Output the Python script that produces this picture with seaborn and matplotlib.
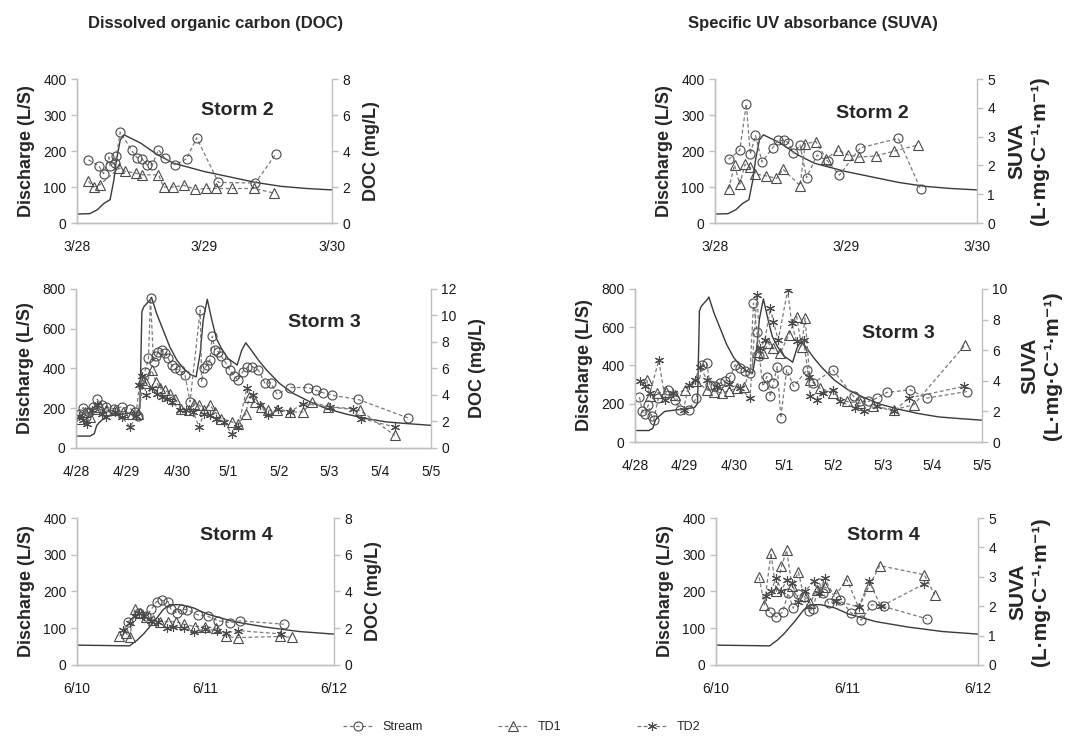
import numpy as np
import pandas as pd
import seaborn as sns
import matplotlib.pyplot as plt

sns.set_style("white")
plt.rcParams['font.family'] = ['Liberation Sans', 'DejaVu Sans']

# ---------------- Storm 2 (3/28 - 3/30), x = days since 3/28 ----------------
s2_ticks = ["3/28", "3/29", "3/30"]
s2_q_day = [0, 0.1, 0.16, 0.21, 0.26, 0.29, 0.31, 0.34, 0.37, 0.5, 0.63, 0.76, 1.0, 1.2, 1.4, 1.6, 1.8, 2.0]
s2_q = [25, 26, 37, 54, 65, 120, 175, 231, 245, 222, 190, 166, 143, 128, 113, 102, 96, 92]

s2_doc_stream_day = [0.09, 0.17, 0.21, 0.25, 0.26, 0.30, 0.31, 0.34, 0.43, 0.47, 0.51, 0.55, 0.59, 0.64, 0.69, 0.77, 0.86, 0.94, 1.11, 1.40, 1.56]
s2_doc_stream = [3.51, 3.18, 2.74, 3.66, 3.18, 3.36, 3.73, 5.05, 4.03, 3.64, 3.57, 3.22, 3.22, 4.07, 3.59, 3.23, 3.57, 4.73, 2.26, 2.22, 3.83]
s2_doc_td1_day = [0.09, 0.13, 0.18, 0.33, 0.38, 0.46, 0.51, 0.64, 0.68, 0.75, 0.84, 0.93, 1.01, 1.09, 1.22, 1.39, 1.55]
s2_doc_td1 = [2.31, 2.0, 2.13, 3.05, 2.87, 2.77, 2.68, 2.68, 2.0, 2.0, 2.09, 1.87, 1.92, 1.92, 1.92, 1.92, 1.66]

s2_suva_stream_day = [0.105, 0.19, 0.24, 0.27, 0.31, 0.36, 0.44, 0.48, 0.53, 0.56, 0.60, 0.65, 0.70, 0.78, 0.86, 0.95, 1.11, 1.40, 1.57]
s2_suva_stream = [2.21, 2.53, 4.14, 2.39, 3.04, 2.12, 2.61, 2.87, 2.87, 2.79, 2.42, 2.71, 1.58, 2.36, 2.16, 1.66, 2.61, 2.94, 1.18]
s2_suva_td1_day = [0.105, 0.15, 0.19, 0.23, 0.27, 0.31, 0.39, 0.47, 0.52, 0.65, 0.69, 0.77, 0.85, 0.94, 1.02, 1.10, 1.23, 1.37, 1.55]
s2_suva_td1 = [1.18, 2.01, 1.35, 2.04, 1.93, 1.70, 1.64, 1.55, 1.87, 1.30, 2.75, 2.83, 2.24, 2.53, 2.36, 2.29, 2.33, 2.50, 2.71]

# ---------------- Storm 3 (4/28 - 5/5) ----------------
s3_ticks = ["4/28", "4/29", "4/30", "5/1", "5/2", "5/3", "5/4", "5/5"]
s3_q_day = [0, 0.28, 0.36, 0.41, 0.47, 0.6, 0.9, 1.2, 1.26, 1.30, 1.34, 1.46, 1.49, 1.59, 1.72, 1.85, 1.99,
            2.12, 2.25, 2.37, 2.45, 2.51, 2.59, 2.68, 2.77, 2.87, 3.0, 3.14, 3.18, 3.27, 3.35, 3.46, 3.60,
            3.76, 4.02, 4.29, 4.62, 4.94, 5.34, 5.73, 6.13, 6.52, 7.0]
s3_q = [60, 60, 72, 114, 131, 160, 170, 180, 200, 686, 711, 745, 758, 677, 593, 509, 442,
        400, 371, 358, 476, 644, 748, 644, 551, 501, 450, 425, 417, 492, 529, 492, 442,
        392, 324, 274, 232, 198, 170, 148, 131, 123, 114]

s3_doc_stream_day = [0.07, 0.14, 0.20, 0.26, 0.34, 0.42, 0.51, 0.60, 0.74, 0.90, 1.07, 1.16, 1.23, 1.36, 1.43, 1.47,
                     1.53, 1.58, 1.62, 1.69, 1.76, 1.82, 1.89, 1.95, 2.05, 2.15, 2.25, 2.45, 2.48, 2.52, 2.59, 2.64,
                     2.69, 2.74, 2.81, 2.87, 2.96, 3.04, 3.12, 3.20, 3.29, 3.38, 3.48, 3.60, 3.73, 3.84, 3.97, 4.22,
                     4.58, 4.73, 4.88, 5.06, 5.57, 6.55]
s3_doc_stream = [2.55, 3.05, 2.34, 2.72, 3.1, 3.68, 3.23, 3.1, 2.97, 3.1, 2.97, 2.72, 2.42, 5.75, 6.76, 11.29,
                 6.5, 6.93, 7.26, 7.39, 7.18, 6.76, 6.25, 6.0, 5.87, 5.5, 3.48, 10.41, 4.99, 6.0, 6.25, 6.63,
                 8.44, 7.39, 7.26, 6.93, 6.38, 5.87, 5.42, 5.12, 5.75, 6.08, 6.13, 5.87, 4.87, 4.92, 4.06, 4.56,
                 4.56, 4.36, 4.16, 3.98, 3.66, 2.27]
s3_doc_td1_day = [0.08, 0.18, 0.28, 0.37, 0.47, 0.60, 0.77, 0.93, 1.10, 1.23, 1.30, 1.39, 1.49, 1.58, 1.66, 1.76,
                  1.85, 1.95, 2.08, 2.22, 2.33, 2.43, 2.52, 2.64, 2.74, 2.87, 3.07, 3.20, 3.35, 3.42, 3.53, 3.66,
                  3.79, 3.96, 4.22, 4.48, 4.65, 4.98, 5.60, 6.29]
s3_doc_td1 = [2.22, 2.72, 2.34, 2.97, 3.1, 2.85, 2.85, 2.72, 2.6, 2.6, 5.12, 4.87, 5.87, 4.99, 4.49, 4.36,
              4.11, 3.73, 2.97, 2.85, 3.35, 3.23, 2.85, 3.28, 2.72, 2.22, 1.97, 1.79, 2.6, 3.86, 3.48, 3.1,
              2.85, 2.85, 2.72, 2.72, 3.48, 3.1, 2.85, 0.96]
s3_doc_td2_day = [0.05, 0.14, 0.22, 0.31, 0.41, 0.51, 0.60, 0.77, 0.90, 1.07, 1.18, 1.25, 1.31, 1.39, 1.49, 1.59,
                  1.69, 1.79, 1.89, 2.05, 2.18, 2.31, 2.43, 2.52, 2.64, 2.77, 2.92, 3.07, 3.20, 3.37, 3.50, 3.63,
                  3.79, 3.99, 4.22, 4.48, 5.01, 5.47, 5.63, 6.29]
s3_doc_td2 = [2.39, 2.09, 1.84, 2.85, 3.23, 2.6, 2.34, 2.72, 2.34, 1.59, 2.39, 4.74, 5.42, 3.98, 4.49, 4.11,
              3.86, 3.73, 3.48, 2.9, 2.85, 2.72, 1.59, 2.6, 2.47, 2.22, 1.97, 1.08, 1.59, 4.49, 3.98, 3.23,
              2.47, 2.97, 2.72, 3.35, 3.1, 2.97, 2.22, 1.59]

s3_suva_stream_day = [0.09, 0.15, 0.20, 0.27, 0.34, 0.38, 0.47, 0.67, 0.81, 0.91, 1.08, 1.24, 1.35, 1.45, 1.51, 1.62,
                      1.72, 1.82, 1.92, 2.02, 2.12, 2.22, 2.32, 2.39, 2.46, 2.51, 2.58, 2.66, 2.73, 2.79, 2.87, 2.94,
                      3.06, 3.20, 3.47, 3.60, 3.99, 4.41, 4.54, 4.71, 4.88, 5.08, 5.55, 5.89, 6.70]
s3_suva_stream = [2.93, 2.0, 1.83, 2.43, 1.67, 1.46, 2.87, 3.37, 2.76, 2.1, 2.1, 2.87, 5.04, 5.15, 3.74, 3.63,
                  3.85, 3.96, 4.28, 5.04, 4.83, 4.61, 4.5, 9.07, 7.22, 5.59, 3.63, 4.28, 2.98, 3.85, 4.93, 1.57,
                  4.72, 3.63, 4.72, 3.85, 4.72, 2.98, 2.65, 2.65, 2.87, 3.24, 3.41, 2.87, 3.30]
s3_suva_td1_day = [0.24, 0.30, 0.44, 0.62, 0.80, 1.00, 1.24, 1.45, 1.60, 1.75, 1.90, 2.05, 2.20, 2.46, 2.59, 2.69,
                   2.79, 2.93, 3.10, 3.26, 3.36, 3.43, 3.53, 3.73, 4.0, 4.27, 4.54, 4.81, 5.22, 5.62, 6.66]
s3_suva_td1 = [4.07, 2.98, 3.2, 3.3, 3.1, 3.4, 3.96, 3.41, 3.3, 3.2, 3.35, 3.5, 3.6, 5.91, 5.8, 6.46,
               6.13, 5.8, 7.0, 8.2, 6.24, 8.09, 4.07, 3.52, 3.2, 2.65, 2.54, 2.33, 2.11, 2.43, 6.35]
s3_suva_td2_day = [0.10, 0.20, 0.30, 0.48, 0.61, 0.77, 0.98, 1.08, 1.21, 1.31, 1.45, 1.65, 1.90, 2.12, 2.32, 2.46,
                   2.52, 2.62, 2.73, 2.79, 2.89, 3.08, 3.16, 3.26, 3.40, 3.50, 3.53, 3.67, 3.80, 4.0, 4.14, 4.44,
                   4.61, 4.88, 5.22, 5.52, 6.63]
s3_suva_td2 = [4.0, 3.63, 3.2, 5.33, 2.76, 3.2, 2.11, 3.74, 4.07, 4.93, 4.07, 3.6, 3.8, 3.52, 2.87, 9.61,
               6.13, 6.67, 8.74, 7.87, 6.67, 9.93, 7.76, 6.57, 6.67, 4.28, 2.98, 2.76, 3.2, 3.41, 2.65, 2.22,
               2.0, 2.33, 2.0, 2.87, 3.63]

# ---------------- Storm 4 (6/10 - 6/12) ----------------
s4_ticks = ["6/10", "6/11", "6/12"]
s4_q_day = [0, 0.41, 0.47, 0.52, 0.6, 0.67, 0.72, 0.80, 0.91, 1.01, 1.22, 1.47, 1.73, 2.0]
s4_q = [54, 52, 68, 85, 118, 150, 164, 164, 155, 139, 118, 103, 91, 84]

s4_doc_stream_day = [0.40, 0.48, 0.54, 0.58, 0.62, 0.66, 0.71, 0.73, 0.78, 0.82, 0.86, 0.94, 1.02, 1.10, 1.19, 1.27, 1.61]
s4_doc_stream = [2.36, 2.82, 2.64, 3.04, 3.45, 3.51, 3.44, 3.05, 2.82, 3.05, 3.0, 2.73, 2.64, 2.4, 2.31, 2.4, 2.22]
s4_doc_td1_day = [0.33, 0.38, 0.41, 0.45, 0.49, 0.54, 0.59, 0.65, 0.71, 0.77, 0.83, 0.92, 1.0, 1.08, 1.16, 1.25, 1.58, 1.67]
s4_doc_td1 = [1.58, 1.76, 1.51, 3.04, 2.82, 2.6, 2.45, 2.36, 2.36, 2.36, 2.22, 2.09, 2.09, 2.0, 1.55, 1.49, 1.55, 1.51]
s4_doc_td2_day = [0.36, 0.41, 0.45, 0.48, 0.52, 0.58, 0.63, 0.70, 0.75, 0.83, 0.91, 1.0, 1.09, 1.16, 1.25, 1.59]
s4_doc_td2 = [1.91, 2.31, 2.67, 2.82, 2.67, 2.42, 2.36, 2.0, 2.09, 2.0, 1.82, 1.95, 1.87, 1.73, 1.87, 1.69]

s4_suva_stream_day = [0.41, 0.46, 0.51, 0.55, 0.59, 0.63, 0.67, 0.71, 0.74, 0.79, 0.82, 0.86, 0.95, 1.03, 1.11, 1.19, 1.28, 1.61]
s4_suva_stream = [1.8, 1.63, 1.8, 2.44, 1.93, 2.42, 2.31, 1.84, 1.91, 2.78, 2.44, 2.1, 2.22, 1.78, 1.53, 2.05, 1.99, 1.57]
s4_suva_td1_day = [0.33, 0.37, 0.42, 0.46, 0.50, 0.54, 0.58, 0.63, 0.67, 0.72, 0.77, 0.83, 0.92, 1.0, 1.09, 1.17, 1.25, 1.59, 1.67]
s4_suva_td1 = [2.98, 2.05, 3.81, 2.5, 3.35, 3.9, 2.69, 3.16, 2.35, 2.1, 2.56, 2.65, 2.42, 2.9, 1.95, 2.69, 3.38, 3.07, 2.39]
s4_suva_td2_day = [0.38, 0.42, 0.46, 0.50, 0.54, 0.58, 0.63, 0.68, 0.75, 0.79, 0.83, 0.92, 1.09, 1.17, 1.26, 1.59]
s4_suva_td2 = [2.36, 2.53, 2.95, 2.53, 2.90, 2.78, 2.15, 2.52, 2.84, 2.44, 2.95, 2.18, 1.97, 2.84, 1.99, 2.76]

series_names = ["Stream", "TD1", "TD2"]
markers = {"Stream": "o", "TD1": "^", "TD2": (6, 2, 0)}

GREY = "#bfbfbf"


def draw_panel(fig, rect, q_day, q, ticks, qmax, rmax, rstep, rlabel, rsize, storm, tpos, series):
    ax = fig.add_axes(rect)
    ax2 = ax.twinx()
    sns.lineplot(x=q_day, y=q, ax=ax, color="#3a3a3a", linewidth=1.0, estimator=None, sort=False)
    for name, xs, ys in series:
        sns.lineplot(x=xs, y=ys, ax=ax2, color="#7a7a7a", linewidth=0.9, linestyle=(0, (3, 2)),
                     marker=markers[name], markersize=6.5, markerfacecolor="none",
                     markeredgecolor="#4a4a4a", markeredgewidth=0.8,
                     estimator=None, sort=False, label=name)
    if ax2.get_legend():
        ax2.get_legend().remove()
    ndays = len(ticks) - 1
    ax.set_xlim(0, ndays)
    ax.set_xticks(range(ndays + 1))
    ax.set_xticklabels(ticks)
    ax.set_ylim(0, qmax)
    ax.set_yticks(np.arange(0, qmax + 1, qmax // 4))
    ax2.set_ylim(0, rmax)
    ax2.set_yticks(np.arange(0, rmax + 0.01, rstep))
    ax.set_ylabel("Discharge (L/S)", fontsize=13, fontweight="bold", labelpad=6)
    ax2.set_ylabel(rlabel, fontsize=rsize, fontweight="bold", labelpad=9, linespacing=1.25)
    for a in (ax, ax2):
        for s in a.spines.values():
            s.set_color(GREY)
            s.set_linewidth(1.0)
        a.spines["top"].set_visible(False)
        a.tick_params(colors=GREY, labelcolor="#1a1a1a", labelsize=10, length=4, width=1.0,
                      direction="out")
    ax.spines["right"].set_visible(False)
    ax.tick_params(axis="x", pad=8)
    ax.text(tpos[0], tpos[1], storm, transform=ax.transAxes, ha="center", va="center",
            fontsize=14, fontweight="bold")
    return ax, ax2


fig = plt.figure(figsize=(10.75, 7.4), dpi=100)

suva_label = "SUVA\n(L\u00b7mg\u00b7C\u207b\u00b9\u00b7m\u207b\u00b9)"

draw_panel(fig, [0.0716, 0.6986, 0.237, 0.1946], s2_q_day, s2_q, s2_ticks, 400, 8, 2,
           "DOC (mg/L)", 13, "Storm 2", (0.63, 0.78),
           [("Stream", s2_doc_stream_day, s2_doc_stream), ("TD1", s2_doc_td1_day, s2_doc_td1)])
draw_panel(fig, [0.665, 0.6986, 0.2437, 0.1946], s2_q_day, s2_q, s2_ticks, 400, 5, 1,
           suva_label, 15, "Storm 2", (0.60, 0.76),
           [("Stream", s2_suva_stream_day, s2_suva_stream), ("TD1", s2_suva_td1_day, s2_suva_td1)])
ax3, ax3b = draw_panel(fig, [0.0707, 0.3946, 0.330, 0.2149], s3_q_day, s3_q, s3_ticks, 800, 12, 2,
                       "DOC (mg/L)", 13, "Storm 3", (0.70, 0.79),
                       [("Stream", s3_doc_stream_day, s3_doc_stream), ("TD1", s3_doc_td1_day, s3_doc_td1),
                        ("TD2", s3_doc_td2_day, s3_doc_td2)])
draw_panel(fig, [0.5907, 0.4027, 0.3228, 0.2068], s3_q_day, s3_q, s3_ticks, 800, 10, 2,
           suva_label, 15, "Storm 3", (0.76, 0.71),
           [("Stream", s3_suva_stream_day, s3_suva_stream), ("TD1", s3_suva_td1_day, s3_suva_td1),
            ("TD2", s3_suva_td2_day, s3_suva_td2)])
draw_panel(fig, [0.0716, 0.1014, 0.239, 0.1986], s4_q_day, s4_q, s4_ticks, 400, 8, 2,
           "DOC (mg/L)", 13, "Storm 4", (0.62, 0.88),
           [("Stream", s4_doc_stream_day, s4_doc_stream), ("TD1", s4_doc_td1_day, s4_doc_td1),
            ("TD2", s4_doc_td2_day, s4_doc_td2)])
draw_panel(fig, [0.666, 0.1014, 0.2437, 0.1986], s4_q_day, s4_q, s4_ticks, 400, 5, 1,
           suva_label, 15, "Storm 4", (0.64, 0.88),
           [("Stream", s4_suva_stream_day, s4_suva_stream), ("TD1", s4_suva_td1_day, s4_suva_td1),
            ("TD2", s4_suva_td2_day, s4_suva_td2)])

fig.text(0.082, 0.968, "Dissolved organic carbon (DOC)", fontsize=12, fontweight="bold", va="center")
fig.text(0.640, 0.968, "Specific UV absorbance (SUVA)", fontsize=12, fontweight="bold", va="center")

handles = ax3b.get_lines()[:3]
fig.legend(handles, series_names, loc="center", bbox_to_anchor=(0.485, 0.017), ncol=3, frameon=False,
           columnspacing=6, handlelength=2.4, fontsize=9)

fig.savefig("out.png", dpi=100)
